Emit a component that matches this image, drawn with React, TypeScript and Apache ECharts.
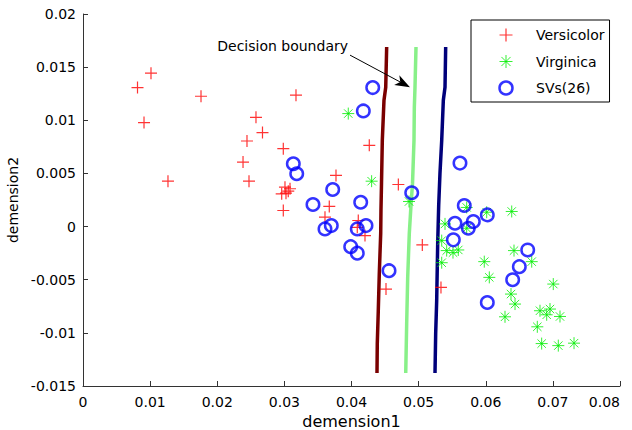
import React, { useEffect, useRef } from "react";
import * as echarts from "echarts";

// Data
const versicolor: [number, number][] = [
  [0.01013, 0.01443], [0.00812, 0.01308], [0.01758, 0.01226], [0.00909, 0.00978],
  [0.02577, 0.01028], [0.02674, 0.00884], [0.02443, 0.00805], [0.02384, 0.00607],
  [0.02473, 0.00427], [0.01266, 0.00427], [0.03173, 0.01236], [0.02984, 0.00733],
  [0.04265, 0.00764], [0.03769, 0.00481], [0.04698, 0.00396], [0.03009, 0.00371],
  [0.03084, 0.00356], [0.0296, 0.00308], [0.03024, 0.00314], [0.03058, 0.00333],
  [0.02984, 0.00151], [0.03669, 0.0019], [0.03605, 0.00088], [0.04101, 0.00057],
  [0.04086, -0.00007], [0.04201, -0.00085], [0.04514, -0.00588], [0.05055, -0.00173],
  [0.05333, -0.00573],
];

const virginica: [number, number][] = [
  [0.03952, 0.01063], [0.043, 0.00427], [0.04857, 0.00236], [0.05716, 0.0018],
  [0.06014, 0.00135], [0.06387, 0.00142], [0.05393, 0.00025], [0.05716, -0.00016],
  [0.05344, -0.00132], [0.05418, -0.00226], [0.05591, -0.0022], [0.05512, -0.00245],
  [0.05344, -0.0034], [0.05978, -0.0033], [0.06421, -0.00226], [0.06685, -0.0033],
  [0.06053, -0.00478], [0.07006, -0.00541], [0.06376, -0.00635], [0.06436, -0.00729],
  [0.06287, -0.00849], [0.06808, -0.00792], [0.06957, -0.00776], [0.06908, -0.0083],
  [0.07106, -0.00846], [0.06768, -0.00943], [0.06833, -0.01101], [0.07081, -0.0112],
  [0.07315, -0.01097],
];

const supportVectors: [number, number][] = [
  [0.04316, 0.01308], [0.04176, 0.01088], [0.03133, 0.00591], [0.03184, 0.00497],
  [0.04897, 0.00318], [0.0372, 0.00349], [0.03426, 0.00208], [0.04137, 0.00229],
  [0.03605, -0.00022], [0.03699, 0.00009], [0.04086, -0.00022], [0.04216, 0.00009],
  [0.03988, -0.00189], [0.04086, -0.0025], [0.04559, -0.00415], [0.05616, 0.00597],
  [0.0568, 0.00198], [0.06023, 0.0011], [0.05542, 0.00031], [0.05815, 0.00047],
  [0.0574, -0.00016], [0.05517, -0.00125], [0.06625, -0.0022], [0.065, -0.00377],
  [0.06401, -0.005], [0.06023, -0.00714],
];

const boundaryLeft: [number, number][] = [
  [0.04524, 0.01689], [0.0451, 0.01311], [0.04484, 0.01189], [0.04459, 0.00811],
  [0.04447, 0.00406], [0.04439, 0.00151], [0.04435, -0.00066], [0.04414, -0.00443],
  [0.04399, -0.00792], [0.04384, -0.01104], [0.0438, -0.01377],
];

const boundaryMid: [number, number][] = [
  [0.04961, 0.01689], [0.04946, 0.01311], [0.04936, 0.01123], [0.04931, 0.00811],
  [0.04909, 0.00406], [0.04886, 0.00198], [0.04861, -0.00066], [0.04837, -0.00481],
  [0.04822, -0.00915], [0.04808, -0.01377],
];

const boundaryRight: [number, number][] = [
  [0.05403, 0.01689], [0.05393, 0.01311], [0.05368, 0.01189], [0.05344, 0.00811],
  [0.05318, 0.005], [0.05299, 0.00198], [0.05284, -0.0016], [0.05269, -0.00698],
  [0.05254, -0.01009], [0.05244, -0.01377],
];

const arrowStart: [number, number] = [0.03978, 0.01613];
const arrowEnd: [number, number] = [0.04871, 0.01311];
const annotationPos: [number, number] = [0.03948, 0.01698];
const annotationText = "Decision boundary";

const xName = "demension1";
const yName = "demension2";
const seriesNames = ["Versicolor", "Virginica", "SVs(26)"];

const plusPath = "path://M0,6L12,6M6,0L6,12";
const starPath = "path://M6,0L6,12M0,6L12,6M1.8,1.8L10.2,10.2M1.8,10.2L10.2,1.8";

const FONT = "DejaVu Sans";

export default function App() {
  const ref = useRef<HTMLDivElement>(null);

  useEffect(() => {
    if (!ref.current) return;
    const chart = echarts.init(ref.current, undefined, { renderer: "svg" });

    const axisColor = "#333333";
    const plusStyle = { color: "none", borderColor: "#ff0000", borderWidth: 1.2 };
    const starStyle = { color: "none", borderColor: "#00ee00", borderWidth: 1 };
    const circleStyle = { color: "none", borderColor: "#0000ff", borderWidth: 2.5 };

    chart.setOption({
      animation: false,
      textStyle: { fontFamily: FONT },
      grid: {
        left: 83,
        right: 12,
        top: 14,
        bottom: 44,
        containLabel: false,
        outerBoundsMode: "none",
      },
      xAxis: {
        type: "value",
        min: 0,
        max: 0.08,
        interval: 0.01,
        name: xName,
        nameLocation: "middle",
        nameGap: 19,
        nameTextStyle: { fontSize: 16, color: "#000", fontFamily: FONT },
        axisLine: { show: true, onZero: false, lineStyle: { color: axisColor, width: 1 } },
        axisTick: { show: true, inside: true, length: 5, lineStyle: { color: axisColor } },
        axisLabel: {
          margin: 9,
          fontSize: 14,
          color: "#000",
          fontFamily: FONT,
          alignMaxLabel: "right",
        },
        splitLine: { show: false },
      },
      yAxis: {
        type: "value",
        min: -0.015,
        max: 0.02,
        interval: 0.005,
        name: yName,
        nameLocation: "middle",
        nameGap: 55,
        nameTextStyle: { fontSize: 14, color: "#000", fontFamily: FONT },
        axisLine: { show: true, onZero: false, lineStyle: { color: axisColor, width: 1 } },
        axisTick: { show: true, inside: true, length: 5, lineStyle: { color: axisColor } },
        axisLabel: { margin: 7, fontSize: 14, color: "#000", fontFamily: FONT },
        splitLine: { show: false },
      },
      legend: {
        orient: "vertical",
        left: 471,
        top: 20,
        backgroundColor: "#fff",
        borderColor: "#000",
        borderWidth: 1,
        borderRadius: 0,
        padding: [6, 5, 5, 26],
        itemWidth: 50,
        itemHeight: 13,
        itemGap: 8.5,
        symbolKeepAspect: true,
        selectedMode: false,
        textStyle: { fontSize: 14, color: "#000", fontFamily: FONT },
        data: [
          { name: seriesNames[0], icon: plusPath, itemStyle: plusStyle },
          { name: seriesNames[1], icon: starPath, itemStyle: starStyle },
          { name: seriesNames[2], icon: "circle", itemStyle: circleStyle },
        ],
      },
      series: [
        {
          type: "line",
          data: boundaryLeft,
          showSymbol: false,
          z: 1,
          lineStyle: { color: "#7a0000", width: 3.5 },
          silent: true,
        },
        {
          type: "line",
          data: boundaryMid,
          showSymbol: false,
          z: 1,
          lineStyle: { color: "#88f088", width: 3.5 },
          silent: true,
        },
        {
          type: "line",
          data: boundaryRight,
          showSymbol: false,
          z: 1,
          lineStyle: { color: "#00007a", width: 3.5 },
          silent: true,
        },
        {
          name: seriesNames[0],
          type: "scatter",
          data: versicolor,
          symbol: plusPath,
          symbolSize: 12,
          symbolKeepAspect: true,
          itemStyle: plusStyle,
          z: 3,
        },
        {
          name: seriesNames[1],
          type: "scatter",
          data: virginica,
          symbol: starPath,
          symbolSize: 12,
          symbolKeepAspect: true,
          itemStyle: starStyle,
          z: 3,
        },
        {
          name: seriesNames[2],
          type: "scatter",
          data: supportVectors,
          symbol: "circle",
          symbolSize: 12.5,
          itemStyle: circleStyle,
          z: 4,
        },
      ],
    });

    const p1 = chart.convertToPixel({ gridIndex: 0 }, arrowStart) as number[];
    const p2 = chart.convertToPixel({ gridIndex: 0 }, arrowEnd) as number[];
    const pt = chart.convertToPixel({ gridIndex: 0 }, annotationPos) as number[];
    const dx = p2[0] - p1[0];
    const dy = p2[1] - p1[1];
    const len = Math.sqrt(dx * dx + dy * dy) || 1;
    const ux = dx / len;
    const uy = dy / len;
    const hl = 15;
    const hw = 5.5;
    const bx = p2[0] - ux * hl;
    const by = p2[1] - uy * hl;
    const nx = bx + ux * 4;
    const ny = by + uy * 4;

    chart.setOption({
      graphic: [
        {
          type: "line",
          shape: { x1: p1[0], y1: p1[1], x2: nx, y2: ny },
          style: { stroke: "#000", lineWidth: 1 },
          z: 10,
        },
        {
          type: "polygon",
          shape: {
            points: [
              [p2[0], p2[1]],
              [bx - uy * hw, by + ux * hw],
              [nx, ny],
              [bx + uy * hw, by - ux * hw],
            ],
          },
          style: { fill: "#000" },
          z: 10,
        },
        {
          type: "text",
          x: pt[0],
          y: pt[1],
          style: {
            text: annotationText,
            fill: "#000",
            font: `14px "${FONT}"`,
            textAlign: "right",
            textVerticalAlign: "middle",
          },
          z: 10,
        },
      ],
    });

    return () => chart.dispose();
  }, []);

  return (
    <div
      ref={ref}
      style={{ position: "absolute", left: 0, top: 0, width: 632, height: 430, background: "#fff" }}
    />
  );
}
